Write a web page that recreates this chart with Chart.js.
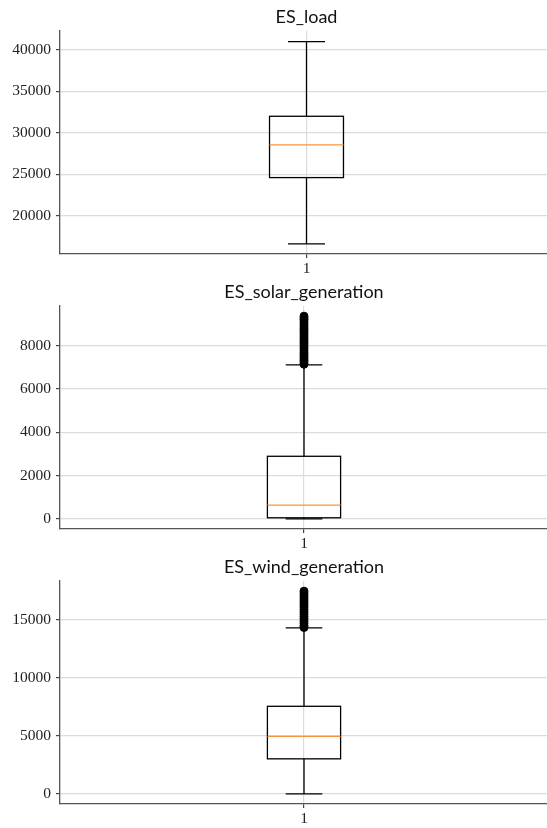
<!DOCTYPE html>
<html>
<head>
<meta charset="utf-8">
<script src="https://cdn.jsdelivr.net/npm/chart.js@4/dist/chart.umd.min.js"></script>
<style>
  html, body { margin: 0; padding: 0; background: #fff; width: 547px; height: 828px; overflow: hidden; }
  .panel { position: absolute; left: 0; width: 553px; height: 281px; }
</style>
</head>
<body>
<div class="panel" style="top:0px"><canvas id="c0" width="553" height="281"></canvas></div>
<div class="panel" style="top:275px"><canvas id="c1" width="553" height="281"></canvas></div>
<div class="panel" style="top:550px"><canvas id="c2" width="553" height="281"></canvas></div>
<script>
// box plot statistics, one entry per panel
const titles = ['ES_load', 'ES_solar_generation', 'ES_wind_generation'];
const whiskerLow = [16600, 0, 0];
const q1 = [24600, 50, 3020];
const median = [28550, 630, 4960];
const q3 = [32000, 2890, 7550];
const whiskerHigh = [41000, 7110, 14310];

// fliers (dense band above the upper whisker)
const loadOutliers = [];
const solarOutliers = [7140, 7230, 7320, 7410, 7500, 7600, 7700, 7800, 7900, 8000, 8100, 8200,
    8300, 8400, 8500, 8600, 8700, 8800, 8900, 9000, 9100, 9200, 9280, 9360];
const windOutliers = [14350, 14500, 14700, 14900, 15100, 15300, 15500, 15700, 15900, 16100,
    16300, 16500, 16700, 16900, 17100, 17300, 17480];
const outliers = [loadOutliers, solarOutliers, windOutliers];

// axes
const yTicks0 = [20000, 25000, 30000, 35000, 40000];
const yTicks1 = [0, 2000, 4000, 6000, 8000];
const yTicks2 = [0, 5000, 10000, 15000];
const yTicks = [yTicks0, yTicks1, yTicks2];
const yMin = [15380, -468, -874];
const yMax = [42290, 9830, 18354];
const xTickLabels = ['1'];

const boxWidth = 0.15;
const capWidth = 0.075;
const serif = '"Liberation Serif", "DejaVu Serif", serif';

// draws box, whiskers, caps and median through the chart scales
const boxPlugin = {
    id: 'boxPlugin',
    beforeDatasetsDraw(chart, args, opts) {
        const i = opts.index;
        const x = chart.scales.x, y = chart.scales.y;
        const ctx = chart.ctx;
        const cx = x.getPixelForValue(1);
        const bl = x.getPixelForValue(1 - boxWidth / 2), br = x.getPixelForValue(1 + boxWidth / 2);
        const cl = x.getPixelForValue(1 - capWidth / 2), cr = x.getPixelForValue(1 + capWidth / 2);
        const py = v => y.getPixelForValue(v);
        ctx.save();
        ctx.strokeStyle = '#000';
        ctx.lineWidth = 1.3;
        ctx.beginPath();
        // whiskers
        ctx.moveTo(cx, py(q3[i])); ctx.lineTo(cx, py(whiskerHigh[i]));
        ctx.moveTo(cx, py(q1[i])); ctx.lineTo(cx, py(whiskerLow[i]));
        // caps
        ctx.moveTo(cl, py(whiskerHigh[i])); ctx.lineTo(cr, py(whiskerHigh[i]));
        ctx.moveTo(cl, py(whiskerLow[i])); ctx.lineTo(cr, py(whiskerLow[i]));
        ctx.stroke();
        // box
        ctx.strokeRect(bl, py(q3[i]), br - bl, py(q1[i]) - py(q3[i]));
        // median
        ctx.strokeStyle = '#f7953f';
        ctx.lineWidth = 1.3;
        ctx.beginPath();
        ctx.moveTo(bl, py(median[i])); ctx.lineTo(br, py(median[i]));
        ctx.stroke();
        ctx.restore();
    }
};

function makeChart(i) {
    new Chart(document.getElementById('c' + i), {
        type: 'scatter',
        data: {
            datasets: [{
                data: outliers[i].map(v => ({ x: 1, y: v })),
                pointRadius: 4,
                pointBorderWidth: 1,
                pointBackgroundColor: '#000',
                pointBorderColor: '#000'
            }]
        },
        plugins: [boxPlugin],
        options: {
            responsive: false,
            animation: false,
            devicePixelRatio: 1,
            events: [],
            layout: { padding: 0 },
            plugins: {
                legend: { display: false },
                tooltip: { enabled: false },
                title: {
                    display: true,
                    fullSize: false,
                    text: titles[i],
                    color: '#111',
                    font: { family: 'Lato, "Open Sans", sans-serif', size: 18, weight: 'normal' },
                    padding: { top: 6, bottom: 3.4 }
                },
                boxPlugin: { index: i }
            },
            scales: {
                x: {
                    type: 'linear',
                    min: 0.5,
                    max: 1.5,
                    afterBuildTicks: s => { s.ticks = [{ value: 1 }]; },
                    afterFit: s => { s.height = 27; },
                    ticks: {
                        callback: () => xTickLabels[0],
                        color: '#222',
                        font: { family: serif, size: 15.5 },
                        padding: 2,
                        maxRotation: 0
                    },
                    grid: { color: '#dcdcdc', lineWidth: 1.2, tickLength: 4, tickColor: '#444' },
                    border: { display: true, color: '#555', width: 1.3 }
                },
                y: {
                    min: yMin[i],
                    max: yMax[i],
                    afterBuildTicks: s => { s.ticks = yTicks[i].map(v => ({ value: v })); },
                    afterFit: s => { s.width = 60; },
                    ticks: {
                        callback: v => String(v),
                        color: '#222',
                        font: { family: serif, size: 15.5 },
                        padding: 5
                    },
                    grid: { color: '#dcdcdc', lineWidth: 1.2, tickLength: 4, tickColor: '#444' },
                    border: { display: true, color: '#555', width: 1.3 }
                }
            }
        }
    });
}

window.onload = () => { [0, 1, 2].forEach(makeChart); };
</script>
</body>
</html>
